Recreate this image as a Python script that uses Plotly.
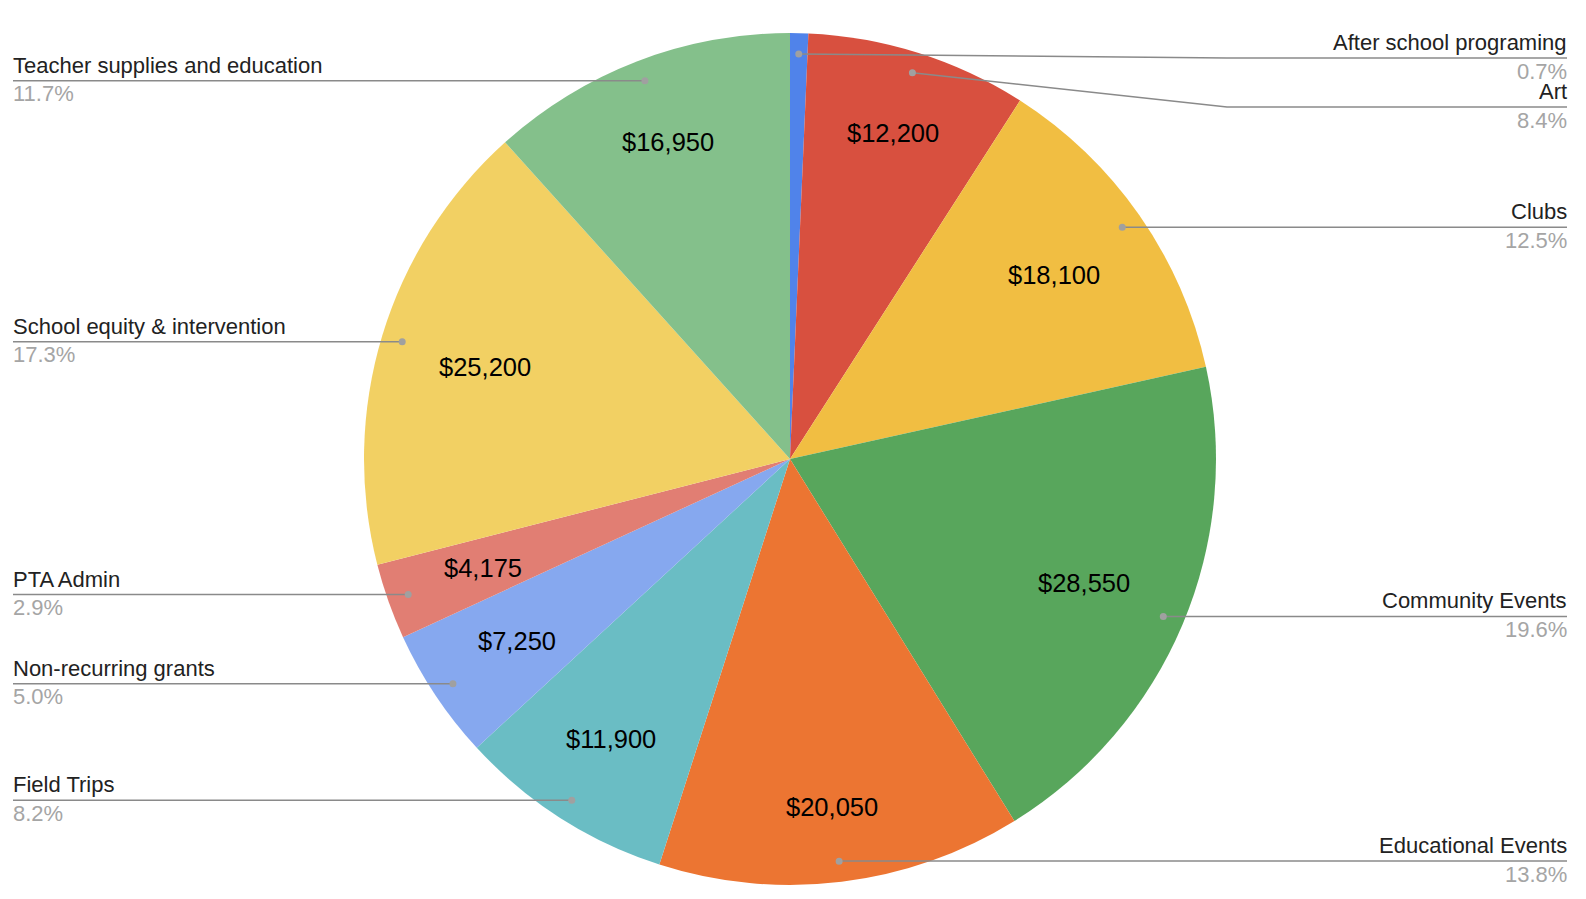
import math
import plotly.graph_objects as go

# slices, clockwise from 12 o'clock
categories = ["After school programing", "Art", "Clubs", "Community Events",
              "Educational Events", "Field Trips", "Non-recurring grants",
              "PTA Admin", "School equity & intervention",
              "Teacher supplies and education"]
amounts = [1000, 12200, 18100, 28550, 20050, 11900, 7250, 4175, 25200, 16950]
colors = ["#5083ea", "#d8503f", "#f1be42", "#58a65c", "#ec7532",
          "#6abdc4", "#86a8ef", "#e17e73", "#f2d063", "#84c08b"]

# everything below is in page pixels; the figure sits inside the 8px body margin
W, H, pad = 1586, 899, 8
FW, FH = W - 2 * pad, H - 2 * pad
cx, cy, R = 790, 459, 426          # pie centre / radius
FONT = "Liberation Sans, Arial, sans-serif"
total = sum(amounts)

# mid angle of each slice (radians, clockwise from top)
mids = []
acc = 0
for v in amounts:
    mids.append((acc + v / 2) / total * 2 * math.pi)
    acc += v

fig = go.Figure()
fig.add_trace(go.Pie(
    labels=categories, values=amounts, sort=False, direction="clockwise",
    rotation=0, textinfo="none", showlegend=False,
    marker=dict(colors=colors, line=dict(width=0)),
    hovertemplate="%{label}<br>$%{value:,}<br>%{percent}<extra></extra>",
    domain=dict(x=[(cx - R - pad) / FW, (cx + R - pad) / FW],
                y=[(H - pad - cy - R) / FH, (H - pad - cy + R) / FH]),
))
fig.add_trace(go.Scatter(x=[], y=[], showlegend=False))

shapes = []
annots = []

# value labels inside slices (text box kept just inside 0.857*R)
vfs = 25.5
for v, a in zip(amounts, mids):
    if v / total < 0.02:
        continue
    txt = f"${v:,}"
    w = vfs * (0.556 * (len(txt) - 1) + 0.278)
    h = vfs * 0.72
    ext = abs(math.sin(a)) * w / 2 + abs(math.cos(a)) * h / 2
    rr = 0.857 * R - ext
    annots.append(dict(x=cx + rr * math.sin(a), y=cy - rr * math.cos(a),
                       xref="x", yref="y", text=txt, showarrow=False,
                       xanchor="center", yanchor="middle",
                       font=dict(family=FONT, size=vfs, color="#000000")))

# outside labels with leader lines
ra = 0.951 * R
anchors = [(cx + ra * math.sin(a), cy - ra * math.cos(a)) for a in mids]
right = sorted([i for i, a in enumerate(mids) if math.sin(a) >= 0], key=lambda i: anchors[i][1])
left = sorted([i for i, a in enumerate(mids) if math.sin(a) < 0], key=lambda i: anchors[i][1])

gap, ymin = 49, 58
lfs = 22
for side, idxs in (("r", right), ("l", left)):
    prev = ymin - gap
    for i in idxs:
        ax, ay = anchors[i]
        ly = max(ay, prev + gap)
        prev = ly
        if side == "r":
            bx, ex, xa, dx = cx + R + 11, 1567, "right", 1.5
        else:
            bx, ex, xa, dx = cx - R - 11, 13, "left", -2
        shapes.append(dict(type="path", xref="x", yref="y", layer="above",
                           path=f"M {ax:.1f},{ay:.1f} L {bx:.1f},{ly:.1f} L {ex},{ly:.1f}",
                           line=dict(color="#8a8a8a", width=1.5)))
        shapes.append(dict(type="circle", xref="x", yref="y", layer="above",
                           x0=ax - 3.5, x1=ax + 3.5, y0=ay - 3.5, y1=ay + 3.5,
                           fillcolor="#a0a0a0", line=dict(width=0)))
        annots.append(dict(x=ex, y=ly, xref="x", yref="y", text=categories[i],
                           showarrow=False, xanchor=xa, yanchor="bottom",
                           xshift=dx, yshift=1,
                           font=dict(family=FONT, size=lfs, color="#222222")))
        annots.append(dict(x=ex, y=ly, xref="x", yref="y",
                           text=f"{amounts[i] / total * 100:.1f}%",
                           showarrow=False, xanchor=xa, yanchor="top",
                           xshift=dx, yshift=1.5,
                           font=dict(family=FONT, size=lfs, color="#a5a5a5")))

fig.update_layout(
    width=FW, height=FH, margin=dict(l=0, r=0, t=0, b=0),
    paper_bgcolor="white", plot_bgcolor="white",
    xaxis=dict(range=[pad, W - pad], visible=False, fixedrange=True),
    yaxis=dict(range=[H - pad, pad], visible=False, fixedrange=True),
    shapes=shapes, annotations=annots, showlegend=False,
)

fig.write_html("out.html")
